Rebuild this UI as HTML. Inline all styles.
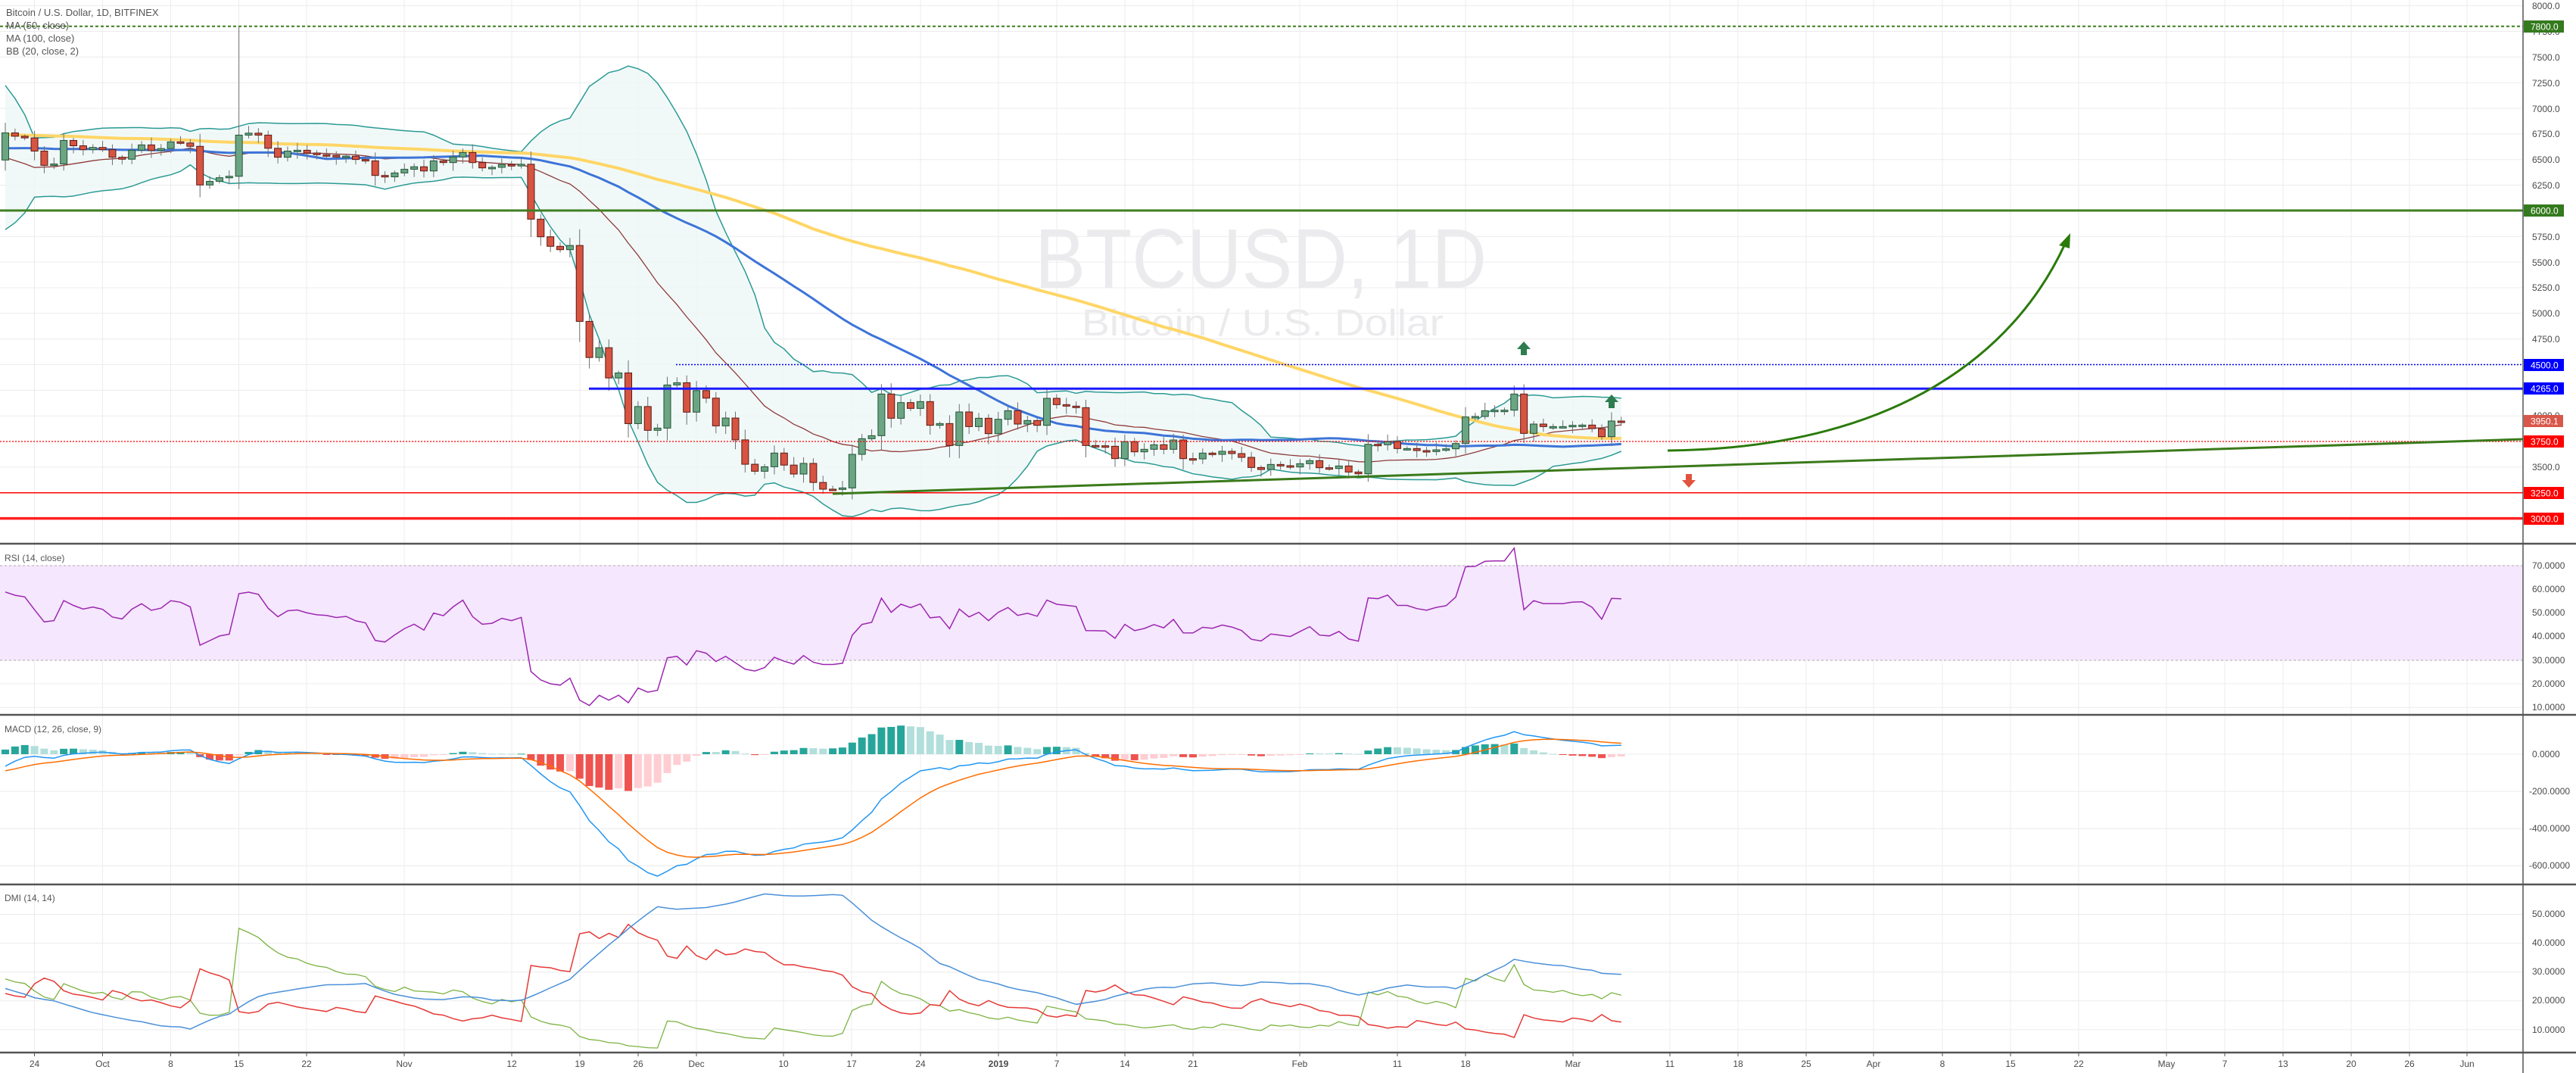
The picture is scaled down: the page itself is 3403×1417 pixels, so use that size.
<!DOCTYPE html>
<html><head><meta charset="utf-8">
<style>
html,body{margin:0;padding:0;background:#fff;}
svg{display:block;font-family:"Liberation Sans",sans-serif;}
.ax{font-size:12px;fill:#4a4a4a;}
.tl{font-size:12px;fill:#4a4a4a;text-anchor:middle;}
.lb{font-size:12px;fill:#fff;}
</style></head><body>
<svg id="s" width="3403" height="1417" viewBox="0 0 3403 1417" xmlns="http://www.w3.org/2000/svg">
<rect width="3403" height="1417" fill="#fff"/>
<g id="grid" stroke="#ececec" stroke-width="1"></g>
<!-- watermark -->
<text x="1367" y="380" font-size="111" fill="#ebebee" textLength="597" lengthAdjust="spacingAndGlyphs">BTCUSD, 1D</text>
<text x="1429" y="443" font-size="49" fill="#ebebee" textLength="478" lengthAdjust="spacingAndGlyphs">Bitcoin / U.S. Dollar</text>
<!-- RSI band -->
<rect x="0" y="747" width="3333" height="125" fill="#f5e7fd"/>
<line x1="0" y1="747" x2="3333" y2="747" stroke="#b0a6b4" stroke-dasharray="3,3"/>
<line x1="0" y1="872" x2="3333" y2="872" stroke="#b0a6b4" stroke-dasharray="3,3"/>
<g id="plots"></g>
<!-- horizontal levels -->
<line x1="0" y1="34.7" x2="3333" y2="34.7" stroke="#3a7d1e" stroke-width="2" stroke-dasharray="4,3"/>
<line x1="0" y1="278" x2="3333" y2="278" stroke="#3f7f22" stroke-width="3"/>
<line x1="893" y1="481.5" x2="3333" y2="481.5" stroke="#0000ff" stroke-width="1.5" stroke-dasharray="2,2"/>
<line x1="778" y1="513.3" x2="3333" y2="513.3" stroke="#1a1aff" stroke-width="3"/>
<line x1="0" y1="583" x2="3333" y2="583" stroke="#ff0000" stroke-width="1.2" stroke-dasharray="2,2"/>
<line x1="0" y1="650.8" x2="3333" y2="650.8" stroke="#ff0000" stroke-width="1.5"/>
<line x1="0" y1="684.6" x2="3333" y2="684.6" stroke="#ff2020" stroke-width="3.5"/>
<line x1="1100" y1="652" x2="3333" y2="580" stroke="#3a7a1a" stroke-width="3"/>
<!-- curved arrow -->
<path d="M2203 595 C2500 592,2660 470,2728 322" fill="none" stroke="#2a7a0a" stroke-width="3"/>
<polygon points="2735,308 2720,324 2734,328" fill="#2a7a0a"/>
<!-- markers -->
<g fill="#2e7d4f"><polygon points="2013,451 2004,461 2009,461 2009,469 2017,469 2017,461 2022,461"/>
<polygon points="2129,521 2120,531 2125,531 2125,539 2133,539 2133,531 2138,531"/></g>
<polygon points="2231,644 2222,634 2227,634 2227,626 2235,626 2235,634 2240,634" fill="#e0533d"/>
<!-- separators -->
<g stroke="#555" stroke-width="2.5">
<line x1="0" y1="718" x2="3403" y2="718"/>
<line x1="0" y1="944" x2="3403" y2="944"/>
<line x1="0" y1="1168" x2="3403" y2="1168"/>
<line x1="0" y1="1390" x2="3403" y2="1390"/>
<line x1="3333" y1="0" x2="3333" y2="1417" stroke-width="1.5"/>
</g>
<!-- legends -->
<text x="8" y="21" font-size="13" fill="#555">Bitcoin / U.S. Dollar, 1D, BITFINEX</text>
<text x="8" y="38" font-size="13" fill="#555">MA (50, close)</text>
<text x="8" y="55" font-size="13" fill="#555">MA (100, close)</text>
<text x="8" y="72" font-size="13" fill="#555">BB (20, close, 2)</text>
<text x="6" y="741" font-size="12" fill="#555">RSI (14, close)</text>
<text x="6" y="967" font-size="12" fill="#555">MACD (12, 26, close, 9)</text>
<text x="6" y="1190" font-size="12" fill="#555">DMI (14, 14)</text>
<!-- price axis -->
<g class="ax">
<text x="3345" y="12">8000.0</text><text x="3345" y="46">7750.0</text><text x="3345" y="80">7500.0</text>
<text x="3345" y="114">7250.0</text><text x="3345" y="148">7000.0</text><text x="3345" y="181">6750.0</text>
<text x="3345" y="215">6500.0</text><text x="3345" y="249">6250.0</text><text x="3345" y="317">5750.0</text>
<text x="3345" y="351">5500.0</text><text x="3345" y="384">5250.0</text><text x="3345" y="418">5000.0</text>
<text x="3345" y="452">4750.0</text><text x="3345" y="553">4000.0</text><text x="3345" y="621">3500.0</text>
<text x="3345" y="751">70.0000</text><text x="3345" y="782">60.0000</text><text x="3345" y="813">50.0000</text>
<text x="3345" y="844">40.0000</text><text x="3345" y="876">30.0000</text><text x="3345" y="907">20.0000</text>
<text x="3345" y="938">10.0000</text>
<text x="3345" y="1000">0.0000</text><text x="3341" y="1049">-200.0000</text><text x="3341" y="1098">-400.0000</text><text x="3341" y="1147">-600.0000</text>
<text x="3345" y="1211">50.0000</text><text x="3345" y="1249">40.0000</text><text x="3345" y="1287">30.0000</text>
<text x="3345" y="1325">20.0000</text><text x="3345" y="1364">10.0000</text>
</g>
<g>
<rect x="3334" y="27" width="53" height="16" fill="#347a1e"/><text class="lb" x="3343" y="39.5">7800.0</text>
<rect x="3334" y="270" width="53" height="16" fill="#347a1e"/><text class="lb" x="3343" y="282.5">6000.0</text>
<rect x="3334" y="474" width="53" height="16" fill="#0000ff"/><text class="lb" x="3343" y="486.5">4500.0</text>
<rect x="3334" y="505" width="53" height="16" fill="#0000ff"/><text class="lb" x="3343" y="517.5">4265.0</text>
<rect x="3334" y="548" width="52" height="16" fill="#d9574a"/><text class="lb" x="3343" y="560.5">3950.1</text>
<rect x="3334" y="575" width="53" height="16" fill="#ff0000"/><text class="lb" x="3343" y="587.5">3750.0</text>
<rect x="3334" y="643" width="53" height="16" fill="#ff0000"/><text class="lb" x="3343" y="655.5">3250.0</text>
<rect x="3334" y="677" width="53" height="16" fill="#ff0000"/><text class="lb" x="3343" y="689.5">3000.0</text>
</g>
<!-- time axis -->
<g class="tl">
<text x="45.5" y="1409">24</text><text x="135.5" y="1409">Oct</text><text x="225.5" y="1409">8</text>
<text x="315.5" y="1409">15</text><text x="405" y="1409">22</text><text x="534" y="1409">Nov</text>
<text x="676" y="1409">12</text><text x="766" y="1409">19</text><text x="843" y="1409">26</text>
<text x="920" y="1409">Dec</text><text x="1035" y="1409">10</text><text x="1125" y="1409">17</text>
<text x="1216" y="1409">24</text><text x="1319" y="1409" font-weight="bold">2019</text><text x="1396" y="1409">7</text>
<text x="1486" y="1409">14</text><text x="1576" y="1409">21</text><text x="1717" y="1409">Feb</text>
<text x="1846" y="1409">11</text><text x="1936" y="1409">18</text><text x="2078" y="1409">Mar</text>
<text x="2206" y="1409">11</text><text x="2296" y="1409">18</text><text x="2386" y="1409">25</text>
<text x="2475" y="1409">Apr</text><text x="2566" y="1409">8</text><text x="2656" y="1409">15</text>
<text x="2746" y="1409">22</text><text x="2862" y="1409">May</text><text x="2939" y="1409">7</text>
<text x="3016" y="1409">13</text><text x="3106" y="1409">20</text><text x="3183" y="1409">26</text>
<text x="3259" y="1409">Jun</text>
</g>
</svg>
<script>
(function(){
var NS="http://www.w3.org/2000/svg";
function el(p,t,a){var e=document.createElementNS(NS,t);for(var k in a)e.setAttribute(k,a[k]);p.appendChild(e);return e;}
var grid=document.getElementById('grid'),P=document.getElementById('plots');
var tx=[45.5,135.5,225.5,315.5,405,534,676,766,843,920,1035,1125,1216,1319,1396,1486,1576,1717,1846,1936,2078,2206,2296,2386,2475,2566,2656,2746,2862,2939,3016,3106,3183,3259];
tx.forEach(function(x){el(grid,'line',{x1:x,y1:0,x2:x,y2:1390});el(grid,'line',{x1:x,y1:1390,x2:x,y2:1395,stroke:'#555'});});
var Y=function(p){return 7.6+(8000-p)*0.1354;};
for(var p=3000;p<=8000;p+=250)el(grid,'line',{x1:0,y1:Y(p),x2:3333,y2:Y(p)});
[70,60,50,40,30,20,10].forEach(function(r){var y=747+(70-r)*3.12;el(grid,'line',{x1:0,y1:y,x2:3333,y2:y});});
[0,-200,-400,-600].forEach(function(m){var y=996-m*0.2455;el(grid,'line',{x1:0,y1:y,x2:3333,y2:y});});
[50,40,30,20,10].forEach(function(v){var y=1207.5+(50-v)*3.81;el(grid,'line',{x1:0,y1:y,x2:3333,y2:y});});

var c6=[150,162,168,215,266,261,177,196,210,202,210,237,244,212,193,213,206,182,186,198,336,323,310,305,158,151,158,205,237,215,212,222,228,230,236,233,245,250,302,307,293,280,271,286,250,256,236,220,256,275,273,263,268,262,458,521,555,567,552,823,952,917,1025,1007,1188,1127,1212,1204,1050,1042,1147,1070,1097,1196,1168,1246,1333,1358,1342,1293,1336,1368,1330,1398,1422];
var c7=[798,793,660,598,586,421,517,455,478,451,545,538,625,492,550,517,578,521,487,540,526,545,438,463,469,475,625,626,628,677,610,650,640,622,640,603,677,678,655,660,648,657,672,712,720,700,705,710,697,685,713,716,706,730,737,620,622,610,637,637,645,649,642,638,617,512,510,487,485,485,421,577,540,550,550,550,545,544,558,590,528,529];
var closes=c6.map(function(z){return 7170-2.732*z;}).concat(c7.map(function(z){return 5249.6-2.462*z;}));
var N=closes.length;
// prehistory
var pre=[],k;
for(k=0;k<70;k++)pre.push(6880+150*Math.sin(k*0.7));
for(k=0;k<30;k++)pre.push(6650+80*Math.sin(k*1.3));
for(k=0;k<4;k++)pre.push(7300+40*Math.sin(k));
for(k=0;k<16;k++)pre.push(6350+60*Math.sin(k*1.1));
var M=pre.length;
var C=pre.concat(closes),O=[],H=[],L=[];
for(var i=0;i<C.length;i++){
 var o=i==0?C[0]:C[i-1];
 if(i==M)o=7170-2.732*247;
 O.push(o);
 var h1=(i*37%61)/61,h2=(i*53%71)/71;
 var rng=Math.abs(o-C[i]);
 H.push(Math.max(o,C[i])+15+h1*55+rng*0.15);
 L.push(Math.min(o,C[i])-15-h2*60-rng*0.2);
}
H[M+24]=7800;
var X=function(j){return 7+j*12.86;};
// indicators
function sma(n,i){var s=0;for(var j=i-n+1;j<=i;j++)s+=C[j];return s/n;}
function sd(n,i,m){var s=0;for(var j=i-n+1;j<=i;j++)s+=(C[j]-m)*(C[j]-m);return Math.sqrt(s/n);}
var up=[],lo=[],mid=[],m50=[],m100=[];
for(var j=0;j<N;j++){var i2=M+j;var m=sma(20,i2),s=sd(20,i2,m);mid.push(m);up.push(m+2*s);lo.push(m-2*s);m50.push(sma(50,i2));m100.push(sma(100,i2));}
function pts(arr,fy){return arr.map(function(v,j){return X(j).toFixed(1)+','+fy(v).toFixed(1);}).join(' ');}
var main=el(P,'g',{});
var poly=up.map(function(v,j){return X(j)+','+Y(v);}).concat(lo.map(function(v,j){return X(j)+','+Y(v);}).reverse()).join(' ');
el(main,'polygon',{points:poly,fill:'#eef7f6',opacity:'0.8'});
el(main,'polyline',{points:pts(up,Y),fill:'none',stroke:'#2b9a94','stroke-width':1.5});
el(main,'polyline',{points:pts(lo,Y),fill:'none',stroke:'#2b9a94','stroke-width':1.5});
el(main,'polyline',{points:pts(mid,Y),fill:'none',stroke:'#8e3b3b','stroke-width':1.3});
el(main,'polyline',{points:pts(m100,Y),fill:'none',stroke:'#ffd666','stroke-width':4});
el(main,'polyline',{points:pts(m50,Y),fill:'none',stroke:'#3d74d8','stroke-width':3});
for(j=0;j<N;j++){
 var i3=M+j,x=X(j),o2=O[i3],c2=C[i3],g=c2>=o2;
 el(main,'line',{x1:x,y1:Y(H[i3]),x2:x,y2:Y(L[i3]),stroke:'#6f6f72','stroke-width':1});
 var yt=Y(Math.max(o2,c2)),yb=Y(Math.min(o2,c2));if(yb-yt<2)yb=yt+2;
 el(main,'rect',{x:x-4.5,y:yt,width:9,height:yb-yt,fill:g?'#6ba583':'#d75442',stroke:g?'#225437':'#5b1a13','stroke-width':1});
}
// RSI
var ag=0,al=0,rsi=[];
for(i=1;i<C.length;i++){var d=C[i]-C[i-1],gg=Math.max(d,0),ll=Math.max(-d,0);
 if(i<=14){ag+=gg/14;al+=ll/14;}else{ag=(ag*13+gg)/14;al=(al*13+ll)/14;}
 if(i>=M)rsi.push(100-100/(1+ag/(al||1e-9)));}
el(P,'polyline',{points:pts(rsi,function(r){return 747+(70-r)*3.12;}),fill:'none',stroke:'#9c27b0','stroke-width':1.5});
// MACD
function ema(arr,n){var a=2/(n+1),r=[arr[0]];for(var i=1;i<arr.length;i++)r.push(arr[i]*a+r[i-1]*(1-a));return r;}
var e12=ema(C,12),e26=ema(C,26),mac=e12.map(function(v,i){return v-e26[i];}),sig=ema(mac,9);
var MY=function(m){return 996-m*0.2455;};
var hist=[];for(j=0;j<N;j++)hist.push(mac[M+j]-sig[M+j]);
for(j=0;j<N;j++){var hv=hist[j],pv=j>0?hist[j-1]:hist[0],col;
 if(hv>=0)col=hv>=pv?'#26a69a':'#b2dfdb';else col=hv<pv?'#ef5350':'#ffcdd2';
 var y0=MY(0),y1=MY(hv);el(P,'rect',{x:X(j)-5,y:Math.min(y0,y1),width:10,height:Math.max(1,Math.abs(y1-y0)),fill:col});}
el(P,'polyline',{points:pts(mac.slice(M),MY),fill:'none',stroke:'#2196f3','stroke-width':1.5});
el(P,'polyline',{points:pts(sig.slice(M),MY),fill:'none',stroke:'#ff6d00','stroke-width':1.5});
// DMI
var tr=0,pdm=0,mdm=0,adx=0,pl=[],mi=[],ad=[],cnt=0;
for(i=1;i<C.length;i++){
 var t=Math.max(H[i]-L[i],Math.abs(H[i]-C[i-1]),Math.abs(L[i]-C[i-1]));
 var u=H[i]-H[i-1],dn=L[i-1]-L[i];
 var pd=(u>dn&&u>0)?u:0,md=(dn>u&&dn>0)?dn:0;
 tr=tr+(t-tr)/14;pdm=pdm+(pd-pdm)/14;mdm=mdm+(md-mdm)/14;
 var P1=100*pdm/tr,M1=100*mdm/tr,dx=100*Math.abs(P1-M1)/((P1+M1)||1);
 adx=i==1?dx:adx+(dx-adx)/14;
 if(i>=M){pl.push(P1);mi.push(M1);ad.push(adx);}
}
var DY=function(v){return 1207.5+(50-v)*3.81;};
el(P,'polyline',{points:pts(pl,DY),fill:'none',stroke:'#7cb342','stroke-width':1.3});
el(P,'polyline',{points:pts(mi,DY),fill:'none',stroke:'#e53935','stroke-width':1.5});
el(P,'polyline',{points:pts(ad,DY),fill:'none',stroke:'#4a90d9','stroke-width':1.5});
})();
</script>
</body></html>
